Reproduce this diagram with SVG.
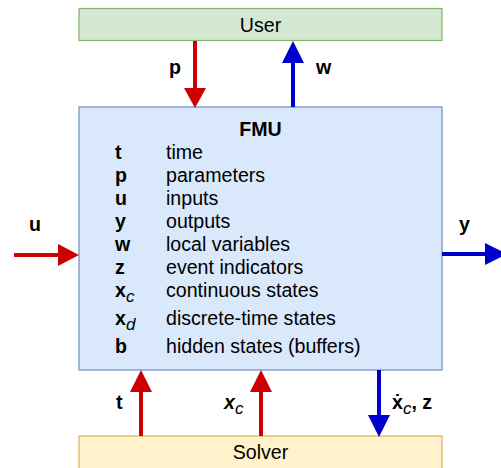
<svg xmlns="http://www.w3.org/2000/svg" width="501" height="468" viewBox="0 0 501 468">
<style>
text{font-family:"Liberation Sans",Arial,sans-serif;font-size:19.6px;fill:#000}
.b{font-weight:bold}
.sub{font-style:italic;font-size:17px}
.red{stroke:#CC0000;stroke-width:4;fill:none}
.blue{stroke:#0000CC;stroke-width:4;fill:none}
.rh{fill:#CC0000}
.bh{fill:#0000CC}
</style>
<g id="user">
<rect x="79" y="8.5" width="363" height="32" fill="#d5e8d4" stroke="#82b366" stroke-width="1.2"/>
<text x="260.5" y="32" text-anchor="middle">User</text>
</g>
<g id="fmu">
<rect x="79" y="107" width="363" height="263" fill="#dae8fc" stroke="#6c8ebf" stroke-width="1.2"/>
<text x="260.5" y="135.5" text-anchor="middle" class="b">FMU</text>
<text x="115" y="158.5" class="b">t</text><text x="166" y="158.5">time</text>
<text x="115" y="181.5" class="b">p</text><text x="166" y="181.5">parameters</text>
<text x="115" y="204.5" class="b">u</text><text x="166" y="204.5">inputs</text>
<text x="115" y="227.5" class="b">y</text><text x="166" y="227.5">outputs</text>
<text x="115" y="250.5" class="b">w</text><text x="166" y="250.5">local variables</text>
<text x="115" y="273.5" class="b">z</text><text x="166" y="273.5">event indicators</text>
<text x="115" y="296.5"><tspan class="b">x</tspan><tspan class="sub" dy="5">c</tspan></text><text x="166" y="296.5">continuous states</text>
<text x="115" y="324.5"><tspan class="b">x</tspan><tspan class="sub" dy="5">d</tspan></text><text x="166" y="324.5">discrete-time states</text>
<text x="115" y="352.5" class="b">b</text><text x="166" y="352.5">hidden states (buffers)</text>
</g>
<g id="solver">
<rect x="79" y="436" width="363" height="33" fill="#fff2cc" stroke="#d6b656" stroke-width="1.2"/>
<text x="260.5" y="459" text-anchor="middle">Solver</text>
</g>
<g id="connectors">
<line class="red" x1="195" y1="41" x2="195" y2="89"/>
<polygon class="rh" points="184,88 206,88 195,108"/>
<text x="169" y="74" class="b">p</text>
<line class="blue" x1="293" y1="62" x2="293" y2="107"/>
<polygon class="bh" points="282,63 304,63 293,41"/>
<text x="316" y="74" class="b">w</text>
<line class="red" x1="14" y1="255" x2="59" y2="255"/>
<polygon class="rh" points="58,244 58,266 79,255"/>
<text x="29" y="231" class="b">u</text>
<line class="blue" x1="442" y1="254" x2="486" y2="254"/>
<polygon class="bh" points="485,243 485,265 507,254"/>
<text x="459" y="231" class="b">y</text>
<line class="red" x1="141" y1="436" x2="141" y2="391"/>
<polygon class="rh" points="130,392 152,392 141,370"/>
<text x="116" y="409" class="b">t</text>
<line class="red" x1="261" y1="436" x2="261" y2="391"/>
<polygon class="rh" points="250,392 272,392 261,370"/>
<text x="224" y="409"><tspan class="b" font-style="italic">x</tspan><tspan class="sub" dy="5">c</tspan></text>
<line class="blue" x1="379" y1="370" x2="379" y2="416"/>
<polygon class="bh" points="368,415 390,415 379,437"/>
<text x="392" y="409"><tspan class="b">ẋ</tspan><tspan class="sub" dy="5">c</tspan><tspan class="b" dy="-5">, z</tspan></text>
</g>
</svg>
